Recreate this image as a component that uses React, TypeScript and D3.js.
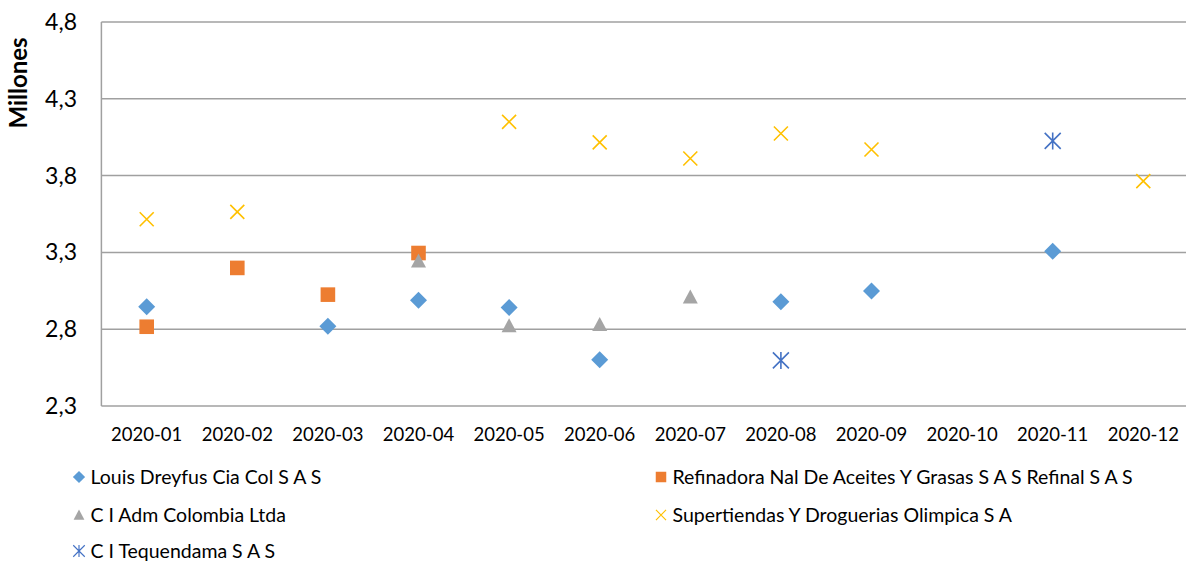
import React from "react";
import * as d3 from "d3";

const categories = ["2020-01","2020-02","2020-03","2020-04","2020-05","2020-06","2020-07","2020-08","2020-09","2020-10","2020-11","2020-12"];
const louisDreyfus = [2.946, null, 2.820, 2.988, 2.942, 2.601, null, 2.979, 3.048, null, 3.307, null];
const refinadora = [2.816, 3.199, 3.025, 3.296, null, null, null, null, null, null, null, null];
const ciAdm = [null, null, null, 3.244, 2.823, 2.831, 3.009, null, null, null, null, null];
const supertiendas = [3.516, 3.564, null, null, 4.150, 4.016, 3.911, 4.074, 3.970, null, null, 3.764];
const tequendama = [null, null, null, null, null, null, null, 2.597, null, null, 4.026, null];
const yTicks = [2.3, 2.8, 3.3, 3.8, 4.3, 4.8];

const seriesNames = [
  "Louis Dreyfus Cia Col S A S",
  "Refinadora Nal De Aceites Y Grasas S A S Refinal S A S",
  "C I Adm Colombia Ltda",
  "Supertiendas Y Droguerias Olimpica S A",
  "C I Tequendama S A S",
];
const seriesColors = ["#5B9BD5", "#ED7D31", "#A5A5A5", "#FFC000", "#4472C4"];
const seriesShapes = ["diamond", "square", "triangle", "x", "star"];
const seriesValues = [louisDreyfus, refinadora, ciAdm, supertiendas, tequendama];

const FONT = "Lato, 'Open Sans', sans-serif";

function Marker({ shape, color, x, y, scale = 1 }: { shape: string; color: string; x: number; y: number; scale?: number }) {
  const t = `translate(${x},${y}) scale(${scale})`;
  if (shape === "diamond") {
    return <path transform={t} d="M0,-8.5L8.5,0L0,8.5L-8.5,0Z" fill={color} />;
  }
  if (shape === "square") {
    return <path transform={t} d="M-7.3,-7.3H7.3V7.3H-7.3Z" fill={color} />;
  }
  if (shape === "triangle") {
    return <path transform={t} d="M0,-7.5L7.5,6.5L-7.5,6.5Z" fill={color} />;
  }
  if (shape === "x") {
    return <path transform={t} d="M-7,-7L7,7M-7,7L7,-7" stroke={color} strokeWidth={1.6} fill="none" />;
  }
  return <path transform={t} d="M0,-8.5V8.5M-8,-8L8,8M-8,8L8,-8" stroke={color} strokeWidth={1.6} fill="none" />;
}

export default function App() {
  const width = 1186;
  const height = 563;
  const left = 101.4;
  const right = 1188.6;
  const top = 22;
  const bottom = 406;

  const x = d3.scaleBand<string>().domain(categories).range([left, right]).padding(0);
  const y = d3.scaleLinear().domain([2.3, 4.8]).range([bottom, top]);
  const cx = (c: string) => (x(c) as number) + x.bandwidth() / 2;
  const fmt = (v: number) => d3.format(".1f")(v).replace(".", ",");

  const legendItems = [
    { i: 0, lx: 79, ly: 477 },
    { i: 1, lx: 661, ly: 477 },
    { i: 2, lx: 79, ly: 515 },
    { i: 3, lx: 661, ly: 515 },
    { i: 4, lx: 79, ly: 551 },
  ];

  return (
    <svg width={width} height={height} style={{ position: "absolute", left: 0, top: 0, background: "#fff" }} fontFamily={FONT}>
      <rect x={0} y={0} width={width} height={height} fill="#fff" />
      {yTicks.map((t) => (
        <line key={t} x1={left} x2={right} y1={y(t)} y2={y(t)} stroke="#a0a0a0" strokeWidth={1.5} />
      ))}
      <line x1={left} x2={left} y1={top} y2={bottom} stroke="#a0a0a0" strokeWidth={1.5} />
      {yTicks.map((t) => (
        <text key={t} x={77} y={y(t)} dy="0.35em" textAnchor="end" fontSize={23} fill="#000">
          {fmt(t)}
        </text>
      ))}
      <text transform={`translate(27,83) rotate(-90)`} textAnchor="middle" fontSize={24} fontWeight="bold" fill="#000">
        Millones
      </text>
      {categories.map((c) => (
        <text key={c} x={cx(c)} y={435} dy="0.35em" textAnchor="middle" fontSize={18.5} fill="#000">
          {c}
        </text>
      ))}
      {seriesValues.map((vals, si) => (
        <g key={si}>
          {vals.map((v, ci) =>
            v == null ? null : (
              <Marker key={ci} shape={seriesShapes[si]} color={seriesColors[si]} x={cx(categories[ci])} y={y(v)} />
            )
          )}
        </g>
      ))}
      {legendItems.map(({ i, lx, ly }) => (
        <g key={i}>
          <Marker shape={seriesShapes[i]} color={seriesColors[i]} x={lx} y={ly} scale={0.72} />
          <text x={lx + 11.5} y={ly} dy="0.35em" fontSize={19.5} fill="#000">
            {seriesNames[i]}
          </text>
        </g>
      ))}
    </svg>
  );
}
